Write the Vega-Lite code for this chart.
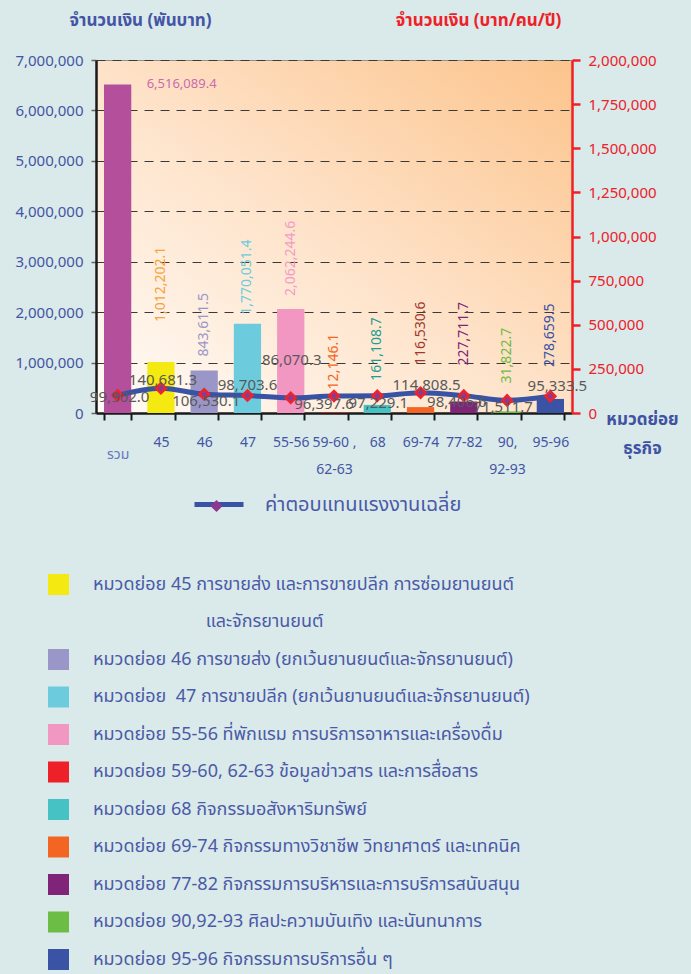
{
  "$schema": "https://vega.github.io/schema/vega-lite/v6.json",
  "autosize": {"type": "none"},
  "padding": {"left": 96, "top": 60, "right": 119, "bottom": 561},
  "width": 476,
  "height": 353,
  "background": "#dae9e9",
  "view": {
    "fill": {"gradient": "linear", "x1": 0, "y1": 1, "x2": 1, "y2": 0,
      "stops": [{"offset": 0, "color": "#fffcf8"}, {"offset": 0.5, "color": "#fee2c8"}, {"offset": 1, "color": "#fcc48c"}]},
    "stroke": "#9e8e80",
    "strokeWidth": 1
  },
  "config": {
    "font": "Tahoma, 'Noto Sans Thai', 'Noto Sans', sans-serif"
  },
  "data": {"values": [
    {"cat": "รวม", "amount": 6516089.4, "wage": 99902.0},
    {"cat": "45", "amount": 1012202.1, "wage": 140681.3},
    {"cat": "46", "amount": 843611.5, "wage": 106530.1},
    {"cat": "47", "amount": 1770051.4, "wage": 98703.6},
    {"cat": "55-56", "amount": 2062244.6, "wage": 86070.3},
    {"cat": "59-60, 62-63", "amount": 12146.1, "wage": 96397.6},
    {"cat": "68", "amount": 161108.7, "wage": 97229.1},
    {"cat": "69-74", "amount": 116530.6, "wage": 114808.5},
    {"cat": "77-82", "amount": 227711.7, "wage": 98406.6},
    {"cat": "90,92-93", "amount": 31822.7, "wage": 71511.7},
    {"cat": "95-96", "amount": 278659.5, "wage": 95333.5}
  ]},
  "encoding": {
    "x": {
      "field": "cat", "type": "nominal", "sort": null,
      "scale": {"paddingInner": 0.37, "paddingOuter": 0.185},
      "axis": {
        "orient": "bottom",
        "labelAngle": 0,
        "labelExpr": "datum.value == '59-60, 62-63' ? ['59-60 ,', '62-63'] : datum.value == '90,92-93' ? ['90,', '92-93'] : datum.value",
        "labelLineHeight": 27,
        "labelFontSize": 14,
        "labelPadding": {"condition": {"test": "datum.value == 'รวม'", "value": 27}, "value": 15},
        "labelColor": {"condition": {"test": "datum.value == 'รวม'", "value": "#6378c0"}, "value": "#4355a5"},
        "tickBand": "extent",
        "tickColor": "#1a1a1a",
        "tickWidth": 2,
        "tickSize": 7,
        "domainColor": "#1a1a1a",
        "domainWidth": 2.5,
        "grid": false,
        "title": ["หมวดย่อย", "ธุรกิจ"],
        "titleX": 546,
        "titleY": -2,
        "titleAlign": "center",
        "titleBaseline": "top",
        "titleLineHeight": 29,
        "titleFontSize": 17,
        "titleFontWeight": "bold",
        "titleColor": "#3f52a3"
      }
    }
  },
  "layer": [
    {
      "encoding": {
        "y": {
          "field": "amount", "type": "quantitative",
          "scale": {"domain": [0, 7000000], "nice": false},
          "axis": {
            "orient": "left",
            "values": [0, 1000000, 2000000, 3000000, 4000000, 5000000, 6000000, 7000000],
            "format": ",.0f",
            "labelFontSize": 15,
            "labelColor": "#4355a5",
            "labelPadding": 8,
            "tickSize": 5,
            "tickColor": "#666666",
            "tickWidth": 1.5,
            "domainColor": "#1a1a1a",
            "domainWidth": 2.5,
            "grid": true,
            "gridColor": "#3a3a3a",
            "gridDash": [9, 7],
            "gridWidth": 1,
            "title": "จำนวนเงิน (พันบาท)",
            "titleAngle": 0,
            "titleX": 44,
            "titleY": -40,
            "titleAlign": "center",
            "titleBaseline": "middle",
            "titleFontSize": 17,
            "titleFontWeight": "bold",
            "titleColor": "#4355a5"
          }
        }
      },
      "layer": [
        {
          "mark": {"type": "bar"},
          "encoding": {
            "color": {
              "field": "cat", "type": "nominal",
              "scale": {
                "domain": ["รวม", "45", "45b", "46", "47", "55-56", "59-60, 62-63", "68", "69-74", "77-82", "90,92-93", "95-96"],
                "range": ["#b44f9c", "#f5e912", "rgba(0,0,0,0)", "#9a97c8", "#6ccbdc", "#f296c2", "#ee2028", "#46c1c4", "#f26522", "#7f2479", "#6cbd45", "#3a53a4"]
              },
              "legend": {
                "orient": "none",
                "legendX": -48,
                "legendY": 514,
                "title": null,
                "padding": 0,
                "direction": "vertical",
                "values": ["45", "45b", "46", "47", "55-56", "59-60, 62-63", "68", "69-74", "77-82", "90,92-93", "95-96"],
                "labelExpr": "({'45': 'หมวดย่อย 45 การขายส่ง และการขายปลีก การซ่อมยานยนต์', '45b': '\u200b\u2003\u2003\u2003\u2003\u2003\u2003\u00a0และจักรยานยนต์', '46': 'หมวดย่อย 46 การขายส่ง (ยกเว้นยานยนต์และจักรยานยนต์)', '47': 'หมวดย่อย\u00a0 47 การขายปลีก (ยกเว้นยานยนต์และจักรยานยนต์)', '55-56': 'หมวดย่อย 55-56 ที่พักแรม การบริการอาหารและเครื่องดื่ม', '59-60, 62-63': 'หมวดย่อย 59-60, 62-63 ข้อมูลข่าวสาร และการสื่อสาร', '68': 'หมวดย่อย 68 กิจกรรมอสังหาริมทรัพย์', '69-74': 'หมวดย่อย 69-74 กิจกรรมทางวิชาชีพ วิทยาศาตร์ และเทคนิค', '77-82': 'หมวดย่อย 77-82 กิจกรรมการบริหารและการบริการสนับสนุน', '90,92-93': 'หมวดย่อย 90,92-93 ศิลปะความบันเทิง และนันทนาการ', '95-96': 'หมวดย่อย 95-96 กิจกรรมการบริการอื่น ๆ'})[datum.value]",
                "symbolType": "square",
                "symbolSize": 441,
                "symbolStrokeWidth": 0,
                "labelFontSize": 18,
                "labelColor": "#4a5aa8",
                "labelOffset": 24,
                "labelLimit": 0,
                "rowPadding": 16.5
              }
            }
          }
        },
        {
          "transform": [{"filter": "datum.cat != 'รวม'"}],
          "mark": {
            "type": "text", "angle": 270, "align": "left", "baseline": "middle", "fontSize": 14,
            "dx": {"expr": "({'45': 40, '46': 14, '47': 9, '55-56': 13, '59-60, 62-63': 23, '68': 24, '69-74': 42, '77-82': 36, '90,92-93': 28, '95-96': 32})[datum.cat]"}
          },
          "encoding": {
            "text": {"field": "amount", "type": "quantitative", "format": ",.1f"},
            "fill": {
              "field": "cat", "type": "nominal",
              "scale": {
                "domain": ["45", "46", "47", "55-56", "59-60, 62-63", "68", "69-74", "77-82", "90,92-93", "95-96"],
                "range": ["#f5a23c", "#9a97c8", "#6ccbdc", "#f49ac8", "#f26522", "#1c9d92", "#a3372e", "#7f2479", "#6cbd45", "#3953a4"]
              },
              "legend": null
            }
          }
        },
        {
          "transform": [{"filter": "datum.cat == 'รวม'"}],
          "mark": {"type": "text", "align": "left", "baseline": "middle", "dx": 29, "fontSize": 13, "color": "#cc6aae"},
          "encoding": {
            "text": {"field": "amount", "type": "quantitative", "format": ",.1f"}
          }
        }
      ]
    },
    {
      "encoding": {
        "y": {
          "field": "wage", "type": "quantitative",
          "scale": {"domain": [0, 2000000], "nice": false},
          "axis": {
            "orient": "right",
            "values": [0, 250000, 500000, 750000, 1000000, 1250000, 1500000, 1750000, 2000000],
            "format": ",.0f",
            "labelFontSize": 15,
            "labelColor": "#ee2028",
            "labelPadding": 8,
            "tickSize": 8,
            "tickColor": "#ee2028",
            "tickWidth": 2.5,
            "domainColor": "#ee2028",
            "domainWidth": 2.5,
            "grid": false,
            "title": "จำนวนเงิน (บาท/คน/ปี)",
            "titleAngle": 0,
            "titleX": -94,
            "titleY": -40,
            "titleAlign": "center",
            "titleBaseline": "middle",
            "titleFontSize": 17,
            "titleFontWeight": "bold",
            "titleColor": "#ee2028"
          }
        }
      },
      "layer": [
        {
          "mark": {"type": "line", "strokeWidth": 5, "interpolate": "monotone"},
          "encoding": {
            "stroke": {
              "datum": "ค่าตอบแทนแรงงานเฉลี่ย",
              "scale": {"range": ["#3953a4"]},
              "legend": {
                "orient": "none",
                "legendX": 96,
                "legendY": 417.5,
                "zindex": 1,
                "title": null,
                "padding": 0,
                "symbolType": "stroke",
                "symbolSize": 2401,
                "symbolStrokeWidth": 5,
                "labelFontSize": 20,
                "labelColor": "#4a5aa8",
                "labelOffset": 19,
                "labelLimit": 0
              }
            }
          }
        },
        {
          "mark": {"type": "point", "filled": true, "fill": "#8b3a91", "stroke": "#f0222b", "strokeWidth": 2.5, "size": 100, "opacity": 1},
          "encoding": {
            "shape": {
              "datum": "diamond-marker",
              "scale": {"range": ["diamond"]},
              "legend": {
                "orient": "none",
                "legendX": 113,
                "legendY": 438.5,
                "zindex": 2,
                "title": null,
                "padding": 0,
                "symbolSize": 150,
                "symbolFillColor": "#8b3a91",
                "symbolStrokeColor": "#f0222b",
                "symbolStrokeWidth": 2.5,
                "labelExpr": "''"
              }
            }
          }
        },
        {
          "mark": {
            "type": "text", "align": "center", "baseline": "middle", "fontSize": 15, "color": "#595959",
            "dy": {"expr": "({'รวม': 2, '45': -8, '46': 7, '47': -11, '55-56': -38, '59-60, 62-63': 8, '68': 7, '69-74': -8, '77-82': 6, '90,92-93': 7, '95-96': -10})[datum.cat]"},
            "dx": {"expr": "({'รวม': 2, '45': 2, '46': 2, '47': 0, '55-56': 1, '59-60, 62-63': -10, '68': 1, '69-74': 6, '77-82': -7, '90,92-93': -4, '95-96': 7})[datum.cat]"}
          },
          "encoding": {
            "text": {"field": "wage", "type": "quantitative", "format": ",.1f"}
          }
        }
      ]
    }
  ],
  "resolve": {"scale": {"y": "independent"}}
}
